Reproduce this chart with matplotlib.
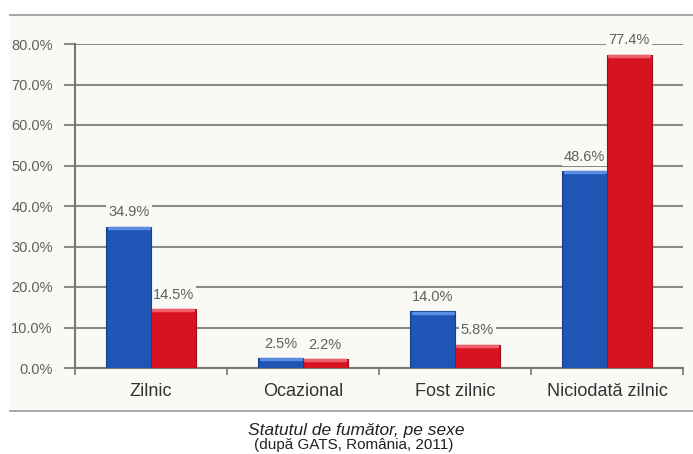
import matplotlib.pyplot as plt
import matplotlib.patches as mpatches
from matplotlib.lines import Line2D
import numpy as np

categories = ['Zilnic', 'Ocazional', 'Fost zilnic', 'Niciodată zilnic']
barbati = [34.9, 2.5, 14.0, 48.6]
femei = [14.5, 2.2, 5.8, 77.4]
yticks = [0, 10, 20, 30, 40, 50, 60, 70, 80]

blue = '#1f55b5'
red = '#d8121f'
grey_txt = '#606060'
bg = '#f9f9f6'

plt.rcParams['font.family'] = ['Liberation Sans Narrow', 'Liberation Sans', 'DejaVu Sans']

fig = plt.figure(figsize=(6.93, 4.54), dpi=100)

# chart panel with top/bottom rule
panel = mpatches.Rectangle((10 / 693, 1 - 411 / 454), 683 / 693, 396 / 454,
                           transform=fig.transFigure, facecolor=bg, edgecolor='none', zorder=-5)
fig.patches.append(panel)
for yy in (15, 411):
    fig.add_artist(Line2D([10 / 693, 1], [1 - yy / 454] * 2, transform=fig.transFigure,
                          color='#a0a0a0', lw=1.3, zorder=-4))

ax = fig.add_axes([75 / 693, 1 - 368 / 454, 608 / 693, 324 / 454])
ax.set_facecolor('none')

x = np.arange(len(categories))
w = 0.293
b1 = ax.bar(x - w / 2, barbati, w, color=blue, edgecolor='#163f8a', lw=0.8, zorder=3)
b2 = ax.bar(x + w / 2, femei, w, color=red, edgecolor='#a00e1a', lw=0.8, zorder=3)

# lighter top edge for a bit of the 3D look
for bars, c in ((b1, '#5b8de0'), (b2, '#f0606a')):
    for r in bars:
        ax.plot([r.get_x() + 0.015, r.get_x() + r.get_width() - 0.015], [r.get_height() - 0.3] * 2,
                color=c, lw=2.5, zorder=4, solid_capstyle='round')

# value labels sit above the grid but under the bars
for bars in (b1, b2):
    for r in bars:
        ax.text(r.get_x() + r.get_width() / 2, r.get_height() + 3.5, f'{r.get_height():.1f}%',
                ha='center', va='center', fontsize=10.5, color=grey_txt, zorder=2,
                bbox=dict(boxstyle='square,pad=0.15', fc=bg, ec='none'))

ax.set_xlim(-0.5, len(categories) - 0.5)
ax.set_ylim(0, 80)
ax.set_yticks(yticks)
ax.set_yticklabels([f'{v:.1f}%' for v in yticks], fontsize=10.5, color=grey_txt)
ax.yaxis.grid(True, color='#8a8a8a', lw=1.5, zorder=1)
ax.set_axisbelow(True)

ax.set_xticks(x)
ax.set_xticklabels(categories, fontsize=13, color='#333333',
                   family=['Liberation Sans', 'DejaVu Sans'])
ax.tick_params(axis='x', length=0, pad=11)
ax.set_xticks(np.arange(len(categories) + 1) - 0.5, minor=True)
ax.tick_params(axis='x', which='minor', length=5, color='#777777', width=1.2)
ax.tick_params(axis='y', length=8, color='#8a8a8a', width=1.5, pad=8)

for s in ('top', 'right'):
    ax.spines[s].set_visible(False)
ax.spines['left'].set_color('#777777')
ax.spines['left'].set_linewidth(1.5)
ax.spines['bottom'].set_color('#777777')
ax.spines['bottom'].set_linewidth(1.5)

fig.text(356 / 693, 1 - 430 / 454, 'Statutul de fumător, pe sexe', ha='center', va='center',
         fontsize=12.5, style='italic', color='#222222', family=['Liberation Sans', 'DejaVu Sans'])
fig.text(354 / 693, 1 - 445 / 454, '(după GATS, România, 2011)', ha='center', va='center',
         fontsize=11, color='#222222', family=['Liberation Sans', 'DejaVu Sans'])

fig.savefig('out.png', dpi=100)
